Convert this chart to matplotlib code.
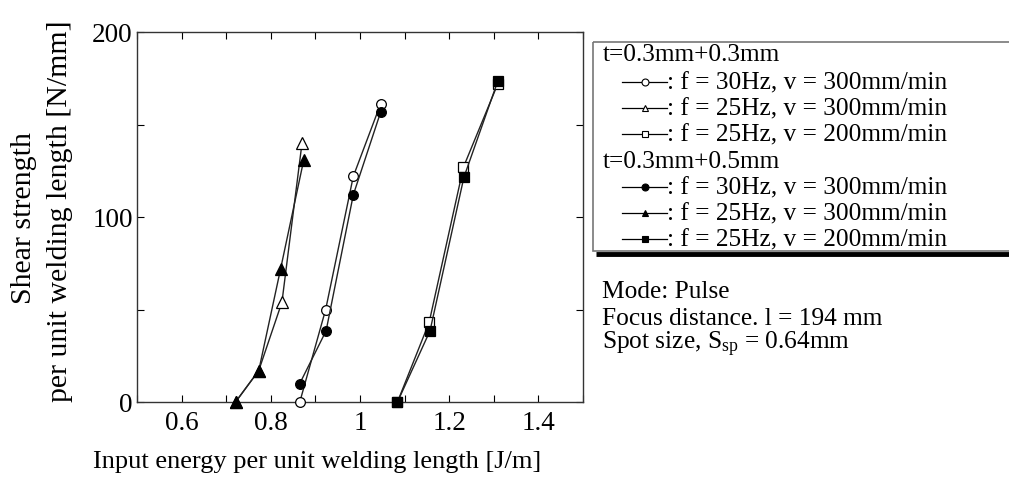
import matplotlib
matplotlib.use('Agg')
import matplotlib.pyplot as plt
from matplotlib.lines import Line2D
from matplotlib.ticker import MultipleLocator

plt.rcParams['font.family'] = 'Liberation Serif'
plt.rcParams['mathtext.fontset'] = 'custom'
plt.rcParams['mathtext.rm'] = 'Liberation Serif'
plt.rcParams['mathtext.it'] = 'Liberation Serif'

# t = 0.3mm + 0.3mm (open markers)
x_o30_300 = [0.865, 0.923, 0.985, 1.046]
y_o30_300 = [0, 50, 122, 161]
x_o25_300 = [0.721, 0.773, 0.825, 0.870]
y_o25_300 = [0, 17, 54, 140]
x_o25_200 = [1.084, 1.155, 1.232, 1.309]
y_o25_200 = [0, 43, 127, 172]

# t = 0.3mm + 0.5mm (filled markers)
x_f30_300 = [0.865, 0.924, 0.985, 1.046]
y_f30_300 = [10, 38.5, 112, 156.5]
x_f25_300 = [0.721, 0.773, 0.822, 0.874]
y_f25_300 = [0, 17, 72, 131]
x_f25_200 = [1.084, 1.157, 1.233, 1.309]
y_f25_200 = [0, 38.5, 121.5, 173.5]

legend_open = ['f = 30Hz, v = 300mm/min', 'f = 25Hz, v = 300mm/min', 'f = 25Hz, v = 200mm/min']
legend_filled = ['f = 30Hz, v = 300mm/min', 'f = 25Hz, v = 300mm/min', 'f = 25Hz, v = 200mm/min']
group_titles = ['t=0.3mm+0.3mm', 't=0.3mm+0.5mm']
notes = ['Mode: Pulse', 'Focus distance. l = 194 mm', r'Spot size, S$_{\mathregular{sp}}$ = 0.64mm']

W, H = 1009, 481
fig = plt.figure(figsize=(W/100, H/100), dpi=100)
ax = fig.add_axes([137/W, 1-403/H, (583-137)/W, (403-33)/H])

series = [
    (x_o25_300, y_o25_300, '^', 'white', 8.5),
    (x_f25_300, y_f25_300, '^', 'black', 8.5),
    (x_o30_300, y_o30_300, 'o', 'white', 7),
    (x_f30_300, y_f30_300, 'o', 'black', 7),
    (x_o25_200, y_o25_200, 's', 'white', 7),
    (x_f25_200, y_f25_200, 's', 'black', 7),
]
for xs, ys, m, fc, ms in series:
    ax.plot(xs, ys, '-', color='#222222', lw=1.0, marker=m, ms=ms,
            mfc=fc, mec='black', mew=0.9, clip_on=False, zorder=3)

ax.set_xlim(0.5, 1.5)
ax.set_ylim(0, 200)
ax.xaxis.set_major_locator(MultipleLocator(0.2))
ax.xaxis.set_minor_locator(MultipleLocator(0.1))
ax.yaxis.set_major_locator(MultipleLocator(100))
ax.yaxis.set_minor_locator(MultipleLocator(50))
ax.tick_params(which='both', direction='in', top=True, right=True,
               length=5, width=0.8, labelsize=19.5, pad=3)
for s in ax.spines.values():
    s.set_linewidth(1.0)
    s.set_color('#333333')

ax.set_xticks([0.6, 0.8, 1.0, 1.2, 1.4])
ax.set_xticklabels(['0.6', '0.8', '1', '1.2', '1.4'])
ax.set_yticks([0, 100, 200])
ax.set_yticklabels(['0', '100', '200'])
ax.tick_params(axis='x', pad=6)

fig.text(317/W, 1-462/H, 'Input energy per unit welding length [J/m]',
         ha='center', va='center', fontsize=19)
fig.text(24/W, 1-218/H, 'Shear strength', rotation=90,
         ha='center', va='center', fontsize=21.5)
fig.text(60/W, 1-211/H, 'per unit welding length [N/mm]', rotation=90,
         ha='center', va='center', fontsize=21.5)

# legend box drawn by hand in pixel coordinates
lax = fig.add_axes([0, 0, 1, 1])
lax.set_xlim(0, W)
lax.set_ylim(H, 0)
lax.axis('off')
lax.add_patch(plt.Rectangle((593, 43), 430, 209, fill=False, ec='#777777', lw=1.2))
lax.plot([596, W], [255, 255], color='black', lw=3.5, solid_capstyle='butt')

row_y = [55, 83, 109, 135, 162, 188, 214, 240]
rows = [(group_titles[0], None, None)]
rows += [(t, m, 'white') for t, m in zip(legend_open, ['o', '^', 's'])]
rows += [(group_titles[1], None, None)]
rows += [(t, m, 'black') for t, m in zip(legend_filled, ['o', '^', 's'])]
for y, (txt, m, fc) in zip(row_y, rows):
    if m is None:
        lax.text(603, y, txt, ha='left', va='center', fontsize=18.3)
    else:
        lax.add_line(Line2D([622, 667], [y, y], color='black', lw=0.9))
        lax.add_line(Line2D([644.5], [y], marker=m, ms=5, mfc=fc, mec='black', mew=0.8))
        lax.text(667, y, ': ' + txt, ha='left', va='center', fontsize=18.3)

for y, txt in zip([292, 319, 344], notes):
    lax.text(602, y, txt, ha='left', va='center', fontsize=18.3)

fig.savefig('out.png', dpi=100)
